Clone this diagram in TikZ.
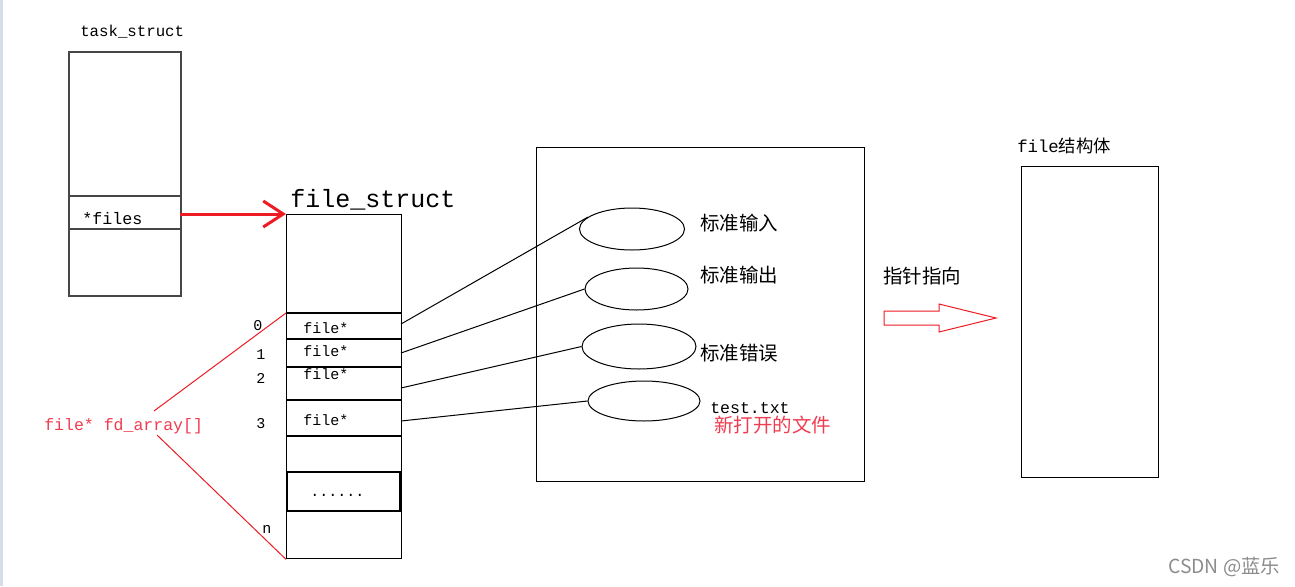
\documentclass[tikz,border=0pt]{standalone}
\usepackage{fontspec}
\setmonofont{Liberation Mono}
\newfontfamily\cjk{Noto Sans CJK SC}
\usetikzlibrary{shapes.geometric,arrows.meta}
\definecolor{redline}{RGB}{237,28,36}
\definecolor{redtext}{RGB}{240,60,80}
\definecolor{boxgray}{RGB}{70,70,70}
\definecolor{stripcol}{RGB}{214,221,233}
\newcommand\setfs[1]{\fontsize{#1}{#1}\selectfont}
\begin{document}
\begin{tikzpicture}[x=0.75pt,y=-0.75pt,
  lbl/.style={inner sep=0pt,anchor=base west},
  cjklbl/.style={inner sep=0pt,anchor=west,font=\setfs{14.6}\cjk},
  slot/.style={lbl,font=\setfs{11.25}\ttfamily},
  idx/.style={lbl,font=\setfs{11.25}\ttfamily},
  box/.style={draw,line width=1pt,inner sep=0pt,anchor=north west},
  oval/.style={draw,ellipse,line width=0.75pt,inner sep=0pt},
  link/.style={line width=0.75pt},
  redthin/.style={redline,line width=0.75pt},
  redarrow/.style={redline,line width=2.25pt,-{Straight Barb[length=15pt,width=19.5pt]}}]
\useasboundingbox (0,0) rectangle (1295,586);
\fill[white] (0,0) rectangle (1295,586);
\fill[stripcol] (0,0) rectangle (2.5,586);

% task_struct
\node[lbl,font=\setfs{11.8}\ttfamily] (tslabel) at (80,36) {task\_struct};
\node[box,draw=boxgray,line width=1.2pt,minimum width=84pt,minimum height=183pt] (ts) at (68,51) {};
\draw[boxgray,line width=1pt] (68,196) -- (180,196);
\draw[boxgray,line width=1pt] (68,229) -- (180,229);
\node[lbl,font=\setfs{12.5}\ttfamily] (files) at (82,224) {*files};
\coordinate (tsfiles) at (180,214);

% file_struct
\node[lbl,font=\setfs{18.75}\ttfamily] (fslabel) at (290,207) {file\_struct};
\node[box,minimum width=86.25pt,minimum height=258pt] (fs) at (286,214) {};
\foreach \yy in {313,339,367,400,436}{\draw[line width=1pt] (286,\yy) -- (401,\yy);}
\draw[line width=1.5pt] (287,472) rectangle (400,511);
\draw[redarrow] (tsfiles) -- (fs.north west);

\node[slot] (f0) at (303,333) {file*};
\node[slot] (f1) at (303,356) {file*};
\node[slot] (f2) at (303,379) {file*};
\node[slot] (f3) at (303,425) {file*};
\node[slot] (dots) at (310,496) {......};

\node[idx] (i0) at (253,330) {0};
\node[idx] (i1) at (256,359) {1};
\node[idx] (i2) at (256,383) {2};
\node[idx] (i3) at (256,428) {3};
\node[idx] (in) at (262,533) {n};

% fd_array label and brace lines
\node[lbl,font=\setfs{12.4}\ttfamily,text=redtext] (fd) at (44,430) {file* fd\_array[]};
\coordinate (row0) at (286,313);
\coordinate (fda) at (154,411);
\coordinate (fdb) at (157,435);
\draw[redthin] (row0) -- (fda);
\draw[redthin] (fdb) -- (fs.south west);

% slot anchors on right edge
\coordinate (s0) at (401,324);
\coordinate (s1) at (401,353);
\coordinate (s2) at (401,388);
\coordinate (s3) at (401,421);

% big box with ellipses
\node[box,minimum width=246pt,minimum height=250.5pt] (bigbox) at (536,147) {};
\node[oval,minimum width=78.75pt,minimum height=31.5pt] (e1) at (632,229) {};
\node[oval,minimum width=77.25pt,minimum height=31.5pt] (e2) at (636.5,289) {};
\node[oval,minimum width=85.5pt,minimum height=33.75pt] (e3) at (639,346.5) {};
\node[oval,minimum width=84pt,minimum height=30pt] (e4) at (644,401) {};
\draw[link] (s0) -- (e1.165);
\draw[link] (s1) -- (e2.west);
\draw[link] (s2) -- (e3.west);
\draw[link] (s3) -- (e4.west);

\node[cjklbl] (t1) at (700,223) {标准输入};
\node[cjklbl] (t2) at (700,275) {标准输出};
\node[cjklbl] (t3) at (700,353) {标准错误};
\node[lbl,font=\setfs{12.4}\ttfamily] (t4) at (710,413) {test.txt};
\node[cjklbl,text=redtext] (t5) at (714,425) {新打开的文件};

% pointer arrow
\node[cjklbl] (ptr) at (883,276) {指针指向};
\draw[redline,line width=0.75pt] (884,311) -- (939,311) -- (939,304) -- (996,318) -- (939,332) -- (939,325) -- (884,325) -- cycle;

% file struct
\node[lbl,font=\setfs{13}\ttfamily] (filelabel) at (1017,152) {file{\cjk 结构体}};
\node[box,minimum width=102.75pt,minimum height=233.25pt] (filebox) at (1021,166) {};

% watermark
\node[inner sep=0pt,anchor=west,text=black!45,font=\setfs{14.5}\cjk] (wm) at (1168,567) {CSDN @蓝乐};
\end{tikzpicture}
\end{document}
